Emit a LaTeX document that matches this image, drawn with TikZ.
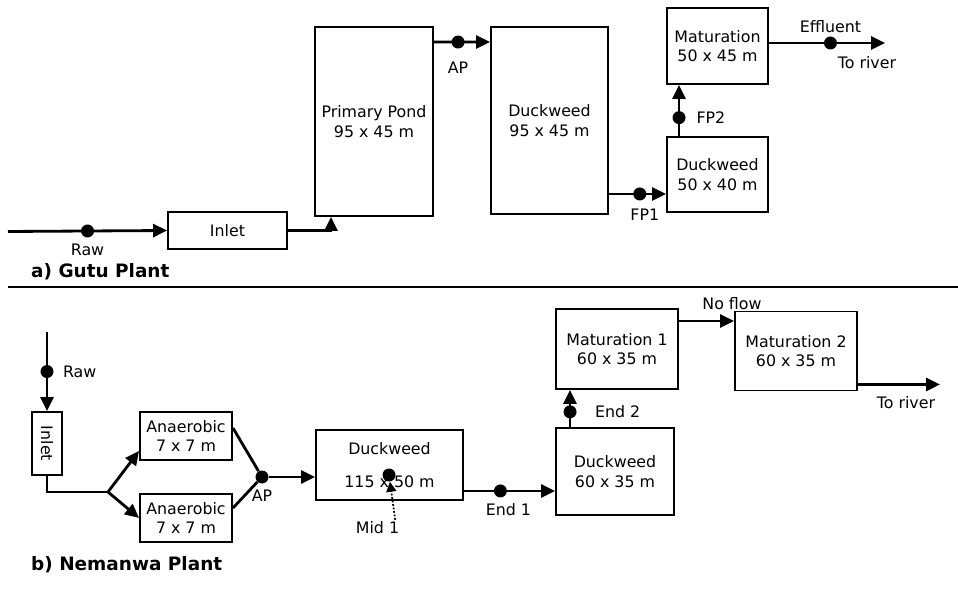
\documentclass[tikz,border=0pt]{standalone}
\usepackage{fontspec}
\setmainfont{DejaVu Sans}
\usetikzlibrary{arrows.meta, positioning, calc}

\begin{document}
\begin{tikzpicture}[
  box/.style={draw, line width=1.1pt, align=center, inner sep=1pt, font=\fontsize{9}{11}\selectfont},
  arr/.style={-{Triangle[length=2.8mm, width=2.6mm]}, line width=1.6pt},
  flow/.style={line width=1.6pt},
  dot/.style={circle, fill, inner sep=0pt, minimum size=2.6mm},
  lbl/.style={font=\fontsize{9}{11}\selectfont, inner sep=1pt},
  title/.style={font=\fontsize{10.5}{12}\selectfont\bfseries, anchor=west}
]
\useasboundingbox (0,0) rectangle (19.16,-11.84);

% a) Gutu
\node[box, minimum width=2.38cm, minimum height=0.74cm] (inleta) at (4.55,-4.61) {Inlet};
\node[box, minimum width=2.36cm, minimum height=3.78cm] (primary) at (7.48,-2.43) {Primary Pond\\95 x 45 m};
\node[box, minimum width=2.34cm, minimum height=3.74cm] (duck1) at (10.99,-2.41) {Duckweed\\95 x 45 m};
\node[box, minimum width=2.02cm, minimum height=1.5cm] (duck2) at (14.35,-3.49) {Duckweed\\50 x 40 m};
\node[box, minimum width=2.02cm, minimum height=1.52cm] (mat) at (14.35,-0.92) {Maturation\\50 x 45 m};

\coordinate (rawa) at (0.16,-4.63);
\draw[arr] (rawa) -- node[dot] (rawdota) {} (inleta.west);
\node[lbl, below=0.05cm of rawdota] {Raw};
\draw[arr] (inleta.east) -| ([xshift=0.34cm]primary.south west);
\draw[arr] ([yshift=-0.32cm]primary.north east) -- node[dot, pos=0.43] (apa) {} ([yshift=-0.32cm]duck1.north west);
\node[lbl, below=0.2cm of apa] {AP};
\draw[arr] ([yshift=0.42cm]duck1.south east) coordinate (fp1s) -- node[dot, pos=0.54] (fp1) {} (fp1s -| duck2.west);
\node[lbl, below=0.1cm of fp1, xshift=0.1cm] {FP1};
\draw[arr] ([xshift=0.26cm]duck2.north west) coordinate (fp2s) -- node[dot, pos=0.36] (fp2) {} (fp2s |- mat.south);
\node[lbl, right=0.15cm of fp2] {FP2};
\coordinate (rivera) at (17.7,-0.86);
\draw[arr] ([yshift=0.06cm]mat.east) -- node[dot, pos=0.53] (eff) {} (rivera);
\node[lbl, above=0pt of eff] {Effluent};
\node[lbl] at (17.34,-1.26) {To river};

\node[title] (gutu) at (0.5,-5.44) {a) Gutu Plant};
\draw[line width=1.1pt] (0.16,-5.74) -- (19.16,-5.74);

% b) Nemanwa
\node[box, minimum width=0.6cm, minimum height=1.26cm] (inletb) at (0.94,-8.87) {\rotatebox{-90}{Inlet}};
\node[box, minimum width=1.84cm, minimum height=0.96cm] (anaer1) at (3.72,-8.72) {Anaerobic\\7 x 7 m};
\node[box, minimum width=1.84cm, minimum height=0.96cm] (anaer2) at (3.72,-10.36) {Anaerobic\\7 x 7 m};
\node[box, minimum width=2.94cm, minimum height=1.4cm] (duckb) at (7.79,-9.3) {Duckweed\\[0.28cm]115 x 50 m};
\node[box, minimum width=2.36cm, minimum height=1.74cm] (duck3) at (12.3,-9.43) {Duckweed\\60 x 35 m};
\node[box, minimum width=2.44cm, minimum height=1.6cm] (mat1) at (12.34,-6.98) {Maturation 1\\60 x 35 m};
\node[box, minimum width=2.44cm, minimum height=1.58cm] (mat2) at (15.92,-7.02) {Maturation 2\\60 x 35 m};

\coordinate (rawb) at (0.94,-6.64);
\draw[arr] (rawb) -- node[dot] (rawdotb) {} (inletb.north);
\node[lbl, right=0.12cm of rawdotb] {Raw};
\coordinate (split) at (2.16,-9.84);
\draw[flow] (inletb.south) |- (split);
\draw[arr] (split) -- ([yshift=0.2cm]anaer1.south west);
\draw[arr] (split) -- (anaer2.west);
\node[dot] (apb) at (5.24,-9.54) {};
\draw[flow] ([yshift=0.16cm]anaer1.east) -- (apb);
\draw[flow] ([yshift=0.2cm]anaer2.east) -- (apb);
\draw[arr] (apb) -- (apb -| duckb.west);
\node[lbl, below=0.08cm of apb] {AP};

\node[dot] (middot) at (7.78,-9.5) {};
\node[lbl] (mid1) at (7.55,-10.56) {Mid 1};
\draw[densely dotted, line width=1pt, -{Triangle[length=2mm, width=2mm]}] ([xshift=-0.12cm]mid1.north east) -- (middot);

\draw[arr] ([yshift=0.2cm]duckb.south east) coordinate (e1s) -- node[dot, pos=0.4] (end1) {} (e1s -| duck3.west);
\node[lbl, below=0.05cm of end1, xshift=0.16cm] {End 1};
\draw[arr] ([xshift=0.3cm]duck3.north west) coordinate (e2s) -- node[dot, pos=0.41] (end2) {} (e2s |- mat1.south);
\node[lbl, right=0.3cm of end2] {End 2};
\draw[arr] ([yshift=-0.26cm]mat1.north east) coordinate (nfs) -- (nfs -| mat2.west);
\node[lbl] at (14.64,-6.08) {No flow};
\coordinate (riverb) at (18.8,-7.66);
\draw[arr] ([yshift=0.14cm]mat2.south east) coordinate (trs) -- (trs -| riverb);
\node[lbl] at (18.12,-8.06) {To river};

\node[title] (nemanwa) at (0.5,-11.3) {b) Nemanwa Plant};
\end{tikzpicture}
\end{document}
